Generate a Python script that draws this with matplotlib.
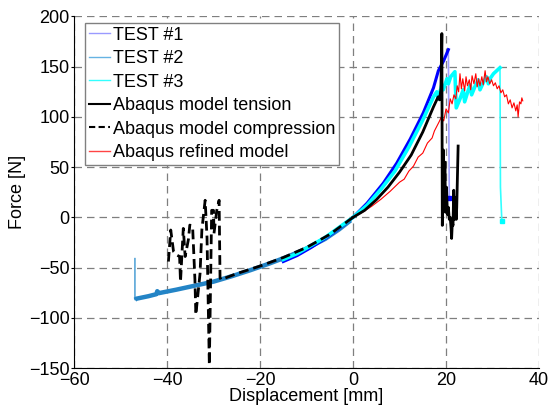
import numpy as np
import matplotlib
matplotlib.use('Agg')
import matplotlib.pyplot as plt
from matplotlib.lines import Line2D

plt.rcParams['font.family'] = ['Liberation Sans', 'DejaVu Sans']

# TEST #1 (azul): compresion corta + traccion, cae al final
t1_x = [-15, -12, -9, -6, -3, 0, 3, 6.5, 9.4, 12.3, 15.1, 17.3, 18.35, 19.5, 20.5, 20.7]
t1_y = [-44, -38, -30, -21, -11, 0, 14, 34, 54, 78, 104, 129, 146, 156, 167, 19]

# TEST #2 (azul medio): solo compresion
t2_x = [-46.9, -46.9, -46.6, -44, -42.3, -42.1, -41.8, -38, -34, -30, -26, -22,
        -18, -14, -10, -6, -3, -0.5]
t2_y = [-41, -82, -81, -78.5, -76.5, -73.5, -75.5, -72, -68, -64, -58.5, -52.5,
        -46, -39, -31, -21.5, -12, -3]

# TEST #3 (cian)
t3_x = [-15, -12, -9, -6, -3, 0, 3, 6, 9, 12, 15, 17.3, 18.0, 18.3, 19.1, 19.4,
        20.2, 20.5, 21.0, 21.9, 22.2, 23.0, 23.7, 24.0, 24.6, 25.2, 25.5, 26.2,
        26.9, 27.3, 28.0, 28.7, 29.1, 29.6, 30.2, 30.9, 31.6, 31.7, 32.0]
t3_y = [-42, -36, -28, -20, -10, 0, 12, 28, 46, 70, 97, 120, 125, 118, 132, 127,
        138, 133, 140, 145, 109, 118, 127, 115, 124, 132, 122, 130,
        137, 127, 134, 140, 133, 139, 143, 146, 149, 30, -4]

# Abaqus model tension
ten_x = [0, 2.5, 5, 7.5, 10, 12.5, 15, 17.3, 18.3, 18.6, 18.9, 19.1, 19.2, 19.35,
         19.45, 19.6, 19.75, 19.9, 20.1, 20.3, 20.5, 20.7, 20.9, 21.1, 21.2, 21.35,
         21.5, 21.65, 21.8, 22.0, 22.2, 22.3, 22.6]
ten_y = [0, 7, 17.5, 30, 45, 62, 85, 110, 120, 117, 128, 183, -8, 40,
         67, 20, 55, 5, 30, 3, 10, -2, 0, -12, -21, -5,
         -8, 27, -2, 20, -2, 10, 71]

# Abaqus model compression
com_x = [0, -5, -10, -15, -20, -25, -28.4, -28.6, -28.8, -29.3, -29.9, -30.0,
         -30.4, -30.9, -31.4, -31.8, -32.5, -32.9, -33.8, -34.0, -34.5, -35.1,
         -35.4, -36.1, -36.5, -37.1, -37.3, -37.9, -38.6, -39.2, -39.7]
com_y = [0, -17, -30, -40, -48.5, -56, -62, -60, 17, 7, -16, 7,
         7, -147, -20, 17, -12, -56, -97, -62, -9, -7.7,
         -22, -39, -11, -64, -39, -37.5, -34, -12.6, -44]

# Abaqus refined model
ref_x = [0, 2, 4, 6, 8, 10, 11, 12, 13, 14, 15, 16, 17, 17.5, 18.5, 19, 19.5,
         20, 20.5, 20.9, 21.3, 21.7, 22.1, 22.4, 22.7, 23, 23.3, 23.6, 24, 24.3,
         24.6, 25, 25.3, 25.6, 26, 26.4, 26.7, 27, 27.3, 27.7, 28, 28.4, 28.7,
         29, 29.4, 29.8, 30.2, 30.6, 31, 31.4, 31.8, 32.2, 32.6, 33, 33.4, 33.8,
         34.2, 34.6, 35, 35.3, 35.5, 35.8, 36.1, 36.3, 36.5]
ref_y = [0, 5, 11, 18, 26, 35, 38, 46, 51, 60, 64, 74, 79, 86, 95, 100, 96,
         108, 104, 118, 113, 122, 118, 131, 125, 143, 128, 138, 126, 140,
         131, 137, 127, 141, 133, 143, 130, 138, 131, 140, 132, 146, 135,
         140, 133, 137, 131, 134, 128, 131, 124, 127, 120, 122, 113, 117,
         109, 114, 106, 112, 100, 115, 113, 119, 116]

fig = plt.figure(figsize=(5.54, 4.07), dpi=100)
ax = fig.add_axes([0.1336, 0.0958, 0.8394, 0.8637])

# TEST #2
ax.plot(t2_x[:3], t2_y[:3], color='#3a96d0', lw=1)
ax.plot(t2_x[1:], t2_y[1:], color='#2384c6', lw=3.2, solid_capstyle='butt')
# TEST #1
ax.plot(t1_x[-2:], t1_y[-2:], color='#a0a0ff', lw=1.2)
ax.plot(t1_x[:-1], t1_y[:-1], color='#0000ff', lw=2.2)
ax.plot(t1_x[-1], t1_y[-1], 's', ms=2.5, color='#0000ff')
# TEST #3
ax.plot(t3_x[-3:], t3_y[-3:], color='#33ffff', lw=1.2)
ax.plot(t3_x[:-2], t3_y[:-2], color='#00ffff', lw=2.6)
ax.plot(t3_x[-1], t3_y[-1], 's', ms=2.5, color='#00ffff')
# modelos
ax.plot(ref_x, ref_y, color='#ff0000', lw=0.8)
ax.plot(ten_x, ten_y, color='black', lw=2)
ax.plot(com_x, com_y, color='black', lw=2, ls=(0, (3.5, 1.8)))

ax.set_xlim(-60, 40)
ax.set_ylim(-150, 200)
ax.set_xticks(np.arange(-60, 41, 20))
ax.set_yticks(np.arange(-150, 201, 50))
ax.grid(True, color='#7f7f7f', ls=(0, (6, 4)), lw=0.9)
ax.tick_params(axis='y', direction='out', labelsize=13, length=2.5, pad=0.5)
ax.tick_params(axis='x', direction='in', labelsize=13, length=0, pad=3)
for s in ['top', 'right']:
    ax.spines[s].set_visible(False)
ax.set_xlabel('Displacement [mm]', fontsize=13, labelpad=-1)
ax.set_ylabel('Force [N]', fontsize=13, labelpad=2)

handles = [
    Line2D([], [], color='#9a9aff', lw=1),
    Line2D([], [], color='#66b3e3', lw=1),
    Line2D([], [], color='#33ffff', lw=1),
    Line2D([], [], color='black', lw=1.5),
    Line2D([], [], color='black', lw=1.5, ls=(0, (3, 1.6))),
    Line2D([], [], color='#ff4444', lw=1),
]
labels = ['TEST #1', 'TEST #2', 'TEST #3', 'Abaqus model tension',
          'Abaqus model compression', 'Abaqus refined model']
leg = ax.legend(handles, labels, loc='upper left', bbox_to_anchor=(85 / 554, 1 - 23 / 407),
                bbox_transform=fig.transFigure, fontsize=13, handlelength=1.2,
                handletextpad=0.15, labelspacing=0.36, borderpad=0.2,
                borderaxespad=0, fancybox=False, framealpha=1)
leg.get_frame().set_edgecolor('#808080')
leg.get_frame().set_linewidth(1)

fig.savefig('out.png', dpi=100)
